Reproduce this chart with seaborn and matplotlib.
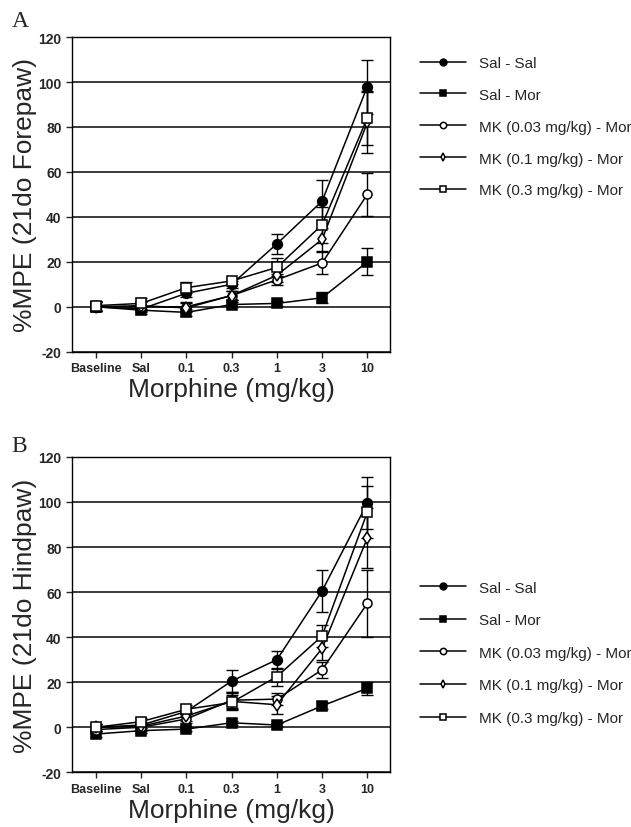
import numpy as np
import pandas as pd
import seaborn as sns
import matplotlib.pyplot as plt

# Doses on the x axis and the five treatment groups
doses = ['Baseline', 'Sal', '0.1', '0.3', '1', '3', '10']
groups = ['Sal - Sal', 'Sal - Mor', 'MK (0.03 mg/kg) - Mor',
          'MK (0.1 mg/kg) - Mor', 'MK (0.3 mg/kg) - Mor']

# Panel A: forepaw %MPE (mean) and error (SEM)
sal_sal_fore = [0, -1, 6, 10, 28, 47, 98]
sal_mor_fore = [0, -1.5, -2.5, 1, 1.5, 4, 20]
mk003_fore = [0, 0, 0, 5, 12, 19.5, 50]
mk01_fore = [0, 0.5, -0.5, 5, 14, 30, 82]
mk03_fore = [0.5, 1.5, 8.5, 11.5, 17.5, 36.5, 84]
sal_sal_fore_err = [2, 1.5, 1.5, 1.5, 4.5, 9.5, 12]
sal_mor_fore_err = [2, 1.5, 1.5, 1, 1, 2.5, 6]
mk003_fore_err = [2, 2, 2, 2, 2.5, 5, 9.5]
mk01_fore_err = [2, 2, 2, 2, 3, 5, 13.5]
mk03_fore_err = [2, 2.5, 2.5, 1.5, 4, 8, 12]

# Panel B: hindpaw %MPE (mean) and error (SEM)
sal_sal_hind = [0, 1, 7, 20.5, 30, 60.5, 99.5]
sal_mor_hind = [-3, -1.5, -0.8, 2, 1, 9.5, 17.3]
mk003_hind = [-1, 0, 3.7, 12, 12.5, 25.5, 55]
mk01_hind = [0, 0.5, 5, 11.5, 10, 35, 84]
mk03_hind = [0, 2.5, 8, 11, 22.5, 40.5, 95.5]
sal_sal_hind_err = [1.5, 1.5, 2, 5, 4, 9.5, 11.5]
sal_mor_hind_err = [1.5, 1, 1, 1, 1, 1.5, 3]
mk003_hind_err = [1.5, 1.5, 2, 3.5, 2.5, 3.5, 15]
mk01_hind_err = [1.5, 1.5, 2, 3.5, 4, 5, 13.5]
mk03_hind_err = [1.5, 1.5, 2, 3.5, 4, 5, 11.5]

sns.set_style('ticks')
plt.rcParams['font.family'] = ['Liberation Sans', 'DejaVu Sans']
plt.rcParams['axes.unicode_minus'] = False

# marker, face colour, size per group
styles = [('o', 'black', 7), ('s', 'black', 7), ('o', 'white', 6.5),
          ('d', 'white', 6), ('s', 'white', 6.5)]


def draw_panel(ax, means, errs, ylabel, letter, leg_y, leg_space, letter_y):
    x = np.arange(len(doses))
    for g, m, e, (mk, fc, ms) in zip(groups, means, errs, styles):
        df = pd.DataFrame({'dose': x, 'mpe': m})
        ax.errorbar(df['dose'], df['mpe'], yerr=e, fmt='none', ecolor='black',
                    elinewidth=1, capsize=4, capthick=1, zorder=2)
        sns.lineplot(data=df, x='dose', y='mpe', ax=ax, color='black',
                     linewidth=1.1, marker=mk, markersize=ms,
                     markerfacecolor=fc, markeredgecolor='black',
                     markeredgewidth=1.1, label=g, zorder=3)
    ax.set_xlim(-0.53, 6.5)
    ax.set_ylim(-20, 120)
    ax.set_yticks(range(-20, 121, 20))
    ax.set_xticks(x)
    ax.set_xticklabels(doses)
    ax.yaxis.grid(True, color='#2b2b2b', linewidth=1.3)
    ax.set_axisbelow(True)
    for s in ax.spines.values():
        s.set_visible(True)
        s.set_linewidth(1)
        s.set_color('black')
    ax.tick_params(direction='out', length=4, width=1, labelsize=10)
    ax.tick_params(axis='x', labelsize=9)
    for t in ax.get_xticklabels() + ax.get_yticklabels():
        t.set_fontweight('bold')
    ax.set_xlabel('Morphine (mg/kg)', fontsize=19, labelpad=2)
    ax.set_ylabel(ylabel, fontsize=19)
    ax.yaxis.set_label_coords(-0.11, 0.5)
    ax.legend(loc='upper left', bbox_to_anchor=(1.096, leg_y), frameon=False,
              fontsize=11, handlelength=3.0, handletextpad=0.8,
              labelspacing=leg_space, borderpad=0, borderaxespad=0,
              markerscale=0.7)
    ax.text(-0.19, letter_y, letter, transform=ax.transAxes, fontsize=17,
            family='Liberation Serif', va='baseline', ha='left')


fig = plt.figure(figsize=(6.31, 8.28), dpi=100)
ax_a = fig.add_axes([0.114, 0.574, 0.504, 0.380])
ax_b = fig.add_axes([0.114, 0.066, 0.504, 0.381])

draw_panel(ax_a,
           [sal_sal_fore, sal_mor_fore, mk003_fore, mk01_fore, mk03_fore],
           [sal_sal_fore_err, sal_mor_fore_err, mk003_fore_err, mk01_fore_err, mk03_fore_err],
           '%MPE (21do Forepaw)', 'A', 0.94, 1.17, 1.035)
draw_panel(ax_b,
           [sal_sal_hind, sal_mor_hind, mk003_hind, mk01_hind, mk03_hind],
           [sal_sal_hind_err, sal_mor_hind_err, mk003_hind_err, mk01_hind_err, mk03_hind_err],
           '%MPE (21do Hindpaw)', 'B', 0.608, 1.22, 1.02)

fig.savefig('out.png', dpi=100)
